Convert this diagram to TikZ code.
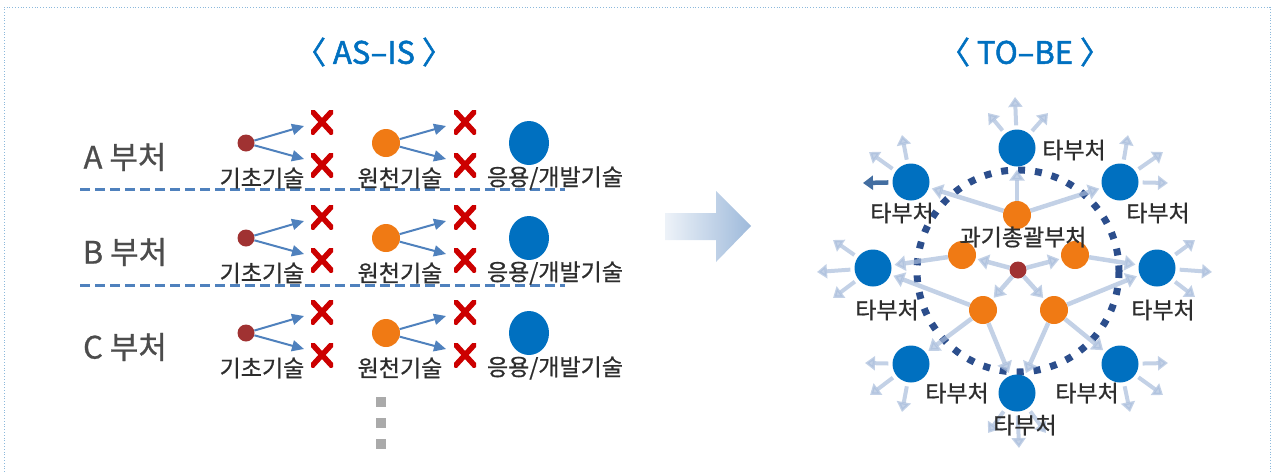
\documentclass[tikz,border=0pt]{standalone}
\usepackage{fontspec}
\setmainfont{Noto Sans CJK KR}
\newfontfamily\kmed[FakeBold=0.8]{Noto Sans CJK KR}
\newfontfamily\kbold[FakeBold=1.6]{Noto Sans CJK KR}
\usetikzlibrary{arrows.meta,shapes.geometric}
\definecolor{tblue}{RGB}{0,112,192}
\definecolor{torange}{RGB}{240,122,20}
\definecolor{tred}{RGB}{160,50,50}
\definecolor{xred}{RGB}{204,0,0}
\definecolor{lblue}{RGB}{79,129,189}
\definecolor{fadec}{RGB}{170,190,220}
\definecolor{dotc}{RGB}{44,78,140}
\definecolor{txt}{RGB}{45,45,45}
\definecolor{framec}{RGB}{140,185,220}
\definecolor{grayd}{RGB}{170,170,170}
\newcommand\fsTitle{\kbold\fontsize{31}{34}\selectfont}
\newcommand\fsDept{\kmed\fontsize{31}{34}\selectfont}
\newcommand\fsLab{\kmed\fontsize{23}{25}\selectfont}
\begin{document}
\begin{tikzpicture}[x=1pt,y=-1pt,
  reddot/.style={circle,fill=tred,minimum size=17,inner sep=0},
  odot/.style={circle,fill=torange,minimum size=28,inner sep=0},
  bdot/.style={ellipse,fill=tblue,minimum width=40,minimum height=44,inner sep=0},
  bdotb/.style={circle,fill=tblue,minimum size=37,inner sep=0},
  xmk/.style={minimum width=22,minimum height=24,inner sep=0,
    path picture={\draw[xred,line width=5.5]
      (path picture bounding box.north west)--(path picture bounding box.south east)
      (path picture bounding box.north east)--(path picture bounding box.south west);}},
  asarr/.style={-{Triangle[length=12,width=11]},lblue,line width=2},
  farr/.style={-{Triangle[length=11,width=15]},fadec,line width=4.5,opacity=0.7},
  oarr/.style={-{Triangle[length=10,width=14]},fadec,line width=4,opacity=0.7,shorten <=4},
  sarr/.style={-{Triangle[length=10,width=14]},lblue!85!black,line width=4.5,shorten <=4},
  title/.style={text=tblue,font=\fsTitle,inner sep=0},
  dept/.style={text=txt!85,font=\fsDept,inner sep=0},
  lab/.style={text=txt,font=\fsLab,inner sep=0},
  sep/.style={lblue,line width=3,dash pattern=on 10 off 5},
  gdot/.style={fill=grayd,minimum size=10,inner sep=0}
]
\useasboundingbox (0,0) rectangle (1273,472);
\draw[framec,dotted,line width=0.8] (4,472) -- (4,7) -- (1270,7) -- (1270,472);

% ---------- AS-IS ----------
\node[title] (astitle) at (374,52) {〈 AS–IS 〉};
\draw[sep] (80,189) -- (565,189);
\draw[sep] (80,285) -- (565,285);
\foreach \lab/\n/\y in {A/a/143,B/b/238,C/c/333}{
  \node[dept] (dept\n) at (125,\y+14) {\lab\ 부처};
  \node[reddot] (r\n) at (246,\y) {};
  \node[xmk] (xa\n) at (322,\y-21) {};
  \node[xmk] (xb\n) at (322,\y+22) {};
  \coordinate (ta\n) at (304,\y-17);
  \coordinate (tb\n) at (304,\y+16);
  \draw[asarr] (r\n) -- (ta\n);
  \draw[asarr] (r\n) -- (tb\n);
  \node[lab] (lba\n) at (262,\y+35) {기초기술};
  \node[odot] (o\n) at (386,\y) {};
  \node[xmk] (xc\n) at (465,\y-21) {};
  \node[xmk] (xd\n) at (465,\y+22) {};
  \coordinate (tc\n) at (446,\y-17);
  \coordinate (td\n) at (446,\y+16);
  \draw[asarr] (o\n) -- (tc\n);
  \draw[asarr] (o\n) -- (td\n);
  \node[lab] (lbb\n) at (400,\y+35) {원천기술};
  \node[bdot] (b\n) at (529,\y) {};
  \node[lab] (lbc\n) at (555,\y+35) {응용/개발기술};
}
\node[gdot] (g1) at (381,402) {};
\node[gdot] (g2) at (381,423) {};
\node[gdot] (g3) at (381,444) {};

% ---------- big arrow ----------
\shade[left color=white!90!lblue, right color=lblue!55!white]
  (665,213) -- (716,213) -- (716,191) -- (751,226) -- (716,262) -- (716,240) -- (665,240) -- cycle;

% ---------- TO-BE ----------
\node[title] (tbtitle) at (1025,52) {〈 TO–BE 〉};
\draw[dotc,line width=7,dash pattern=on 7 off 10] (1018,271) circle (101);

\node[reddot] (c) at (1018,270) {};
\node[odot] (otop) at (1017,215) {};
\node[odot] (ol) at (962,255) {};
\node[odot] (or) at (1075,255) {};
\node[odot] (oll) at (983,310) {};
\node[odot] (olr) at (1054,310) {};

\node[bdotb] (btop) at (1017,148) {};
\node[bdotb] (bul) at (911,182) {};
\node[bdotb] (bur) at (1120,182) {};
\node[bdotb] (bl) at (873,268) {};
\node[bdotb] (br) at (1157,268) {};
\node[bdotb] (bll) at (911,364) {};
\node[bdotb] (blr) at (1120,364) {};
\node[bdotb] (bb) at (1017,393) {};

% center -> orange
\draw[farr,shorten >=2] (c) -- (ol);
\draw[farr,shorten >=2] (c) -- (or);
\draw[farr,shorten >=2] (c) -- (oll);
\draw[farr,shorten >=2] (c) -- (olr);
% orange -> blue
\draw[farr,shorten >=3] (otop) -- (btop);
\draw[farr,shorten >=3] (otop) -- (bul);
\draw[farr,shorten >=3] (otop) -- (bur);
\draw[farr,shorten >=3] (ol) -- (bl);
\draw[farr,shorten >=3] (or) -- (br);
\draw[farr,shorten >=3] (oll) -- (bl);
\draw[farr,shorten >=3] (olr) -- (br);
\draw[farr,shorten >=3] (oll) -- (bll);
\draw[farr,shorten >=3] (olr) -- (blr);
\draw[farr,shorten >=3] (oll) -- (bb);
\draw[farr,shorten >=3] (olr) -- (bb);

% outward arrow tips
\coordinate (t1) at (1015,97);  \coordinate (t2) at (988,113);  \coordinate (t3) at (1048,113);
\coordinate (t4) at (863,183);  \coordinate (t5) at (869,152);  \coordinate (t6) at (902,135);
\coordinate (t7) at (1128,135); \coordinate (t8) at (1163,152); \coordinate (t9) at (1168,183);
\coordinate (t10) at (817,272); \coordinate (t11) at (833,240); \coordinate (t12) at (833,298);
\coordinate (t13) at (1212,272);\coordinate (t14) at (1195,240);\coordinate (t15) at (1195,297);
\coordinate (t16) at (865,363); \coordinate (t17) at (870,395); \coordinate (t18) at (902,412);
\coordinate (t19) at (1168,363);\coordinate (t20) at (1163,395);\coordinate (t21) at (1130,412);
\coordinate (t22) at (1019,448);\coordinate (t23) at (988,433); \coordinate (t24) at (1046,433);

\draw[oarr] (btop) -- (t1); \draw[oarr] (btop) -- (t2); \draw[oarr] (btop) -- (t3);
\draw[sarr] (bul) -- (t4);  \draw[oarr] (bul) -- (t5);  \draw[oarr] (bul) -- (t6);
\draw[oarr] (bur) -- (t7);  \draw[oarr] (bur) -- (t8);  \draw[oarr] (bur) -- (t9);
\draw[oarr] (bl) -- (t10);  \draw[oarr] (bl) -- (t11);  \draw[oarr] (bl) -- (t12);
\draw[oarr] (br) -- (t13);  \draw[oarr] (br) -- (t14);  \draw[oarr] (br) -- (t15);
\draw[oarr] (bll) -- (t16); \draw[oarr] (bll) -- (t17); \draw[oarr] (bll) -- (t18);
\draw[oarr] (blr) -- (t19); \draw[oarr] (blr) -- (t20); \draw[oarr] (blr) -- (t21);
\draw[oarr] (bb) -- (t22);  \draw[oarr] (bb) -- (t23);  \draw[oarr] (bb) -- (t24);

% labels
\node[lab] (lc) at (1023,237) {과기총괄부처};
\node[lab] (l1) at (1074,150) {타부처};
\node[lab] (l2) at (902,213) {타부처};
\node[lab] (l3) at (1158,213) {타부처};
\node[lab] (l4) at (887,310) {타부처};
\node[lab] (l5) at (1163,310) {타부처};
\node[lab] (l6) at (957,393) {타부처};
\node[lab] (l7) at (1087,393) {타부처};
\node[lab] (l8) at (1025,425) {타부처};
\end{tikzpicture}
\end{document}
